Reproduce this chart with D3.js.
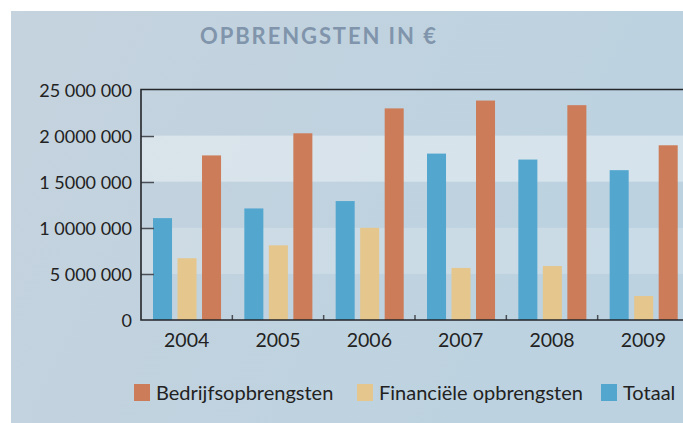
<!DOCTYPE html>
<html>
<head>
<meta charset="utf-8">
<script src="https://cdn.jsdelivr.net/npm/d3@7"></script>
<style>
  body { margin: 0; background: #fff; }
  svg { display: block; }
  text { font-family: Lato, "Open Sans", sans-serif; }
</style>
</head>
<body>
<div id="chart"></div>
<script>
// data
var years = ["2004", "2005", "2006", "2007", "2008", "2009"];
var seriesKeys = ["totaal", "financieel", "bedrijf"];
var totaal     = [11.05, 12.1, 12.9, 18.05, 17.4, 16.25];   // millions
var financieel = [6.7, 8.1, 10.0, 5.65, 5.85, 2.6];
var bedrijf    = [17.85, 20.25, 22.95, 23.8, 23.3, 18.95];
var yTicks = [0, 5, 10, 15, 20, 25];
var yTickLabels = ["0", "5 000 000", "1 0000 000", "1 5000 000", "2 0000 000", "25 000 000"];
var legendItems = [
    { key: "bedrijf", label: "Bedrijfsopbrengsten" }
  , { key: "financieel", label: "Financiële opbrengsten" }
  , { key: "totaal", label: "Totaal" }
];

var colors = { totaal: "#53a7cf", financieel: "#e5c68c", bedrijf: "#cc7c58" };

var width = 683, height = 423
  , plot = { left: 141, top: 89.5, bottom: 320, right: 689 }
;

var svg = d3.select("#chart").append("svg")
    .attr("width", width)
    .attr("height", height)
;

var defs = svg.append("defs");
var grad = defs.append("linearGradient")
    .attr("id", "bg")
    .attr("x1", "0").attr("y1", "0")
    .attr("x2", "1").attr("y2", "0.3")
;
grad.append("stop").attr("offset", "0").attr("stop-color", "#c5d3de");
grad.append("stop").attr("offset", "1").attr("stop-color", "#bcd2e0");

svg.append("rect")
    .attr("x", 11).attr("y", 11)
    .attr("width", width - 11).attr("height", height - 11)
    .attr("fill", "url(#bg)")
;

// scales
var y = d3.scaleLinear().domain([0, 25]).range([plot.bottom, plot.top]);
var x0 = d3.scaleBand().domain(years).range([plot.left, plot.right]).padding(0);
var x1 = d3.scaleBand()
    .domain(seriesKeys)
    .range([12, x0.bandwidth() - 11.3])
    .paddingInner(0.224)
    .paddingOuter(0)
;

// alternating bands
var bands = [
    { from: 5, to: 10, op: 0.2 }
  , { from: 15, to: 20, op: 0.38 }
];
svg.append("g").attr("class", "bands")
  .selectAll("rect")
    .data(bands)
  .enter().append("rect")
    .attr("x", plot.left)
    .attr("width", width - plot.left)
    .attr("y", function(d) { return y(d.to); })
    .attr("height", function(d) { return y(d.from) - y(d.to); })
    .attr("fill", "#fff")
    .attr("fill-opacity", function(d) { return d.op; })
;

// bars
var rows = years.map(function(yr, i) {
    return { year: yr, totaal: totaal[i], financieel: financieel[i], bedrijf: bedrijf[i] };
});
svg.append("g").attr("class", "bars")
  .selectAll("g")
    .data(rows)
  .enter().append("g")
    .attr("transform", function(d) { return "translate(" + x0(d.year) + ",0)"; })
  .selectAll("rect")
    .data(function(d) { return seriesKeys.map(function(k) { return { key: k, value: d[k] }; }); })
  .enter().append("rect")
    .attr("x", function(d) { return x1(d.key); })
    .attr("width", x1.bandwidth())
    .attr("y", function(d) { return y(d.value); })
    .attr("height", function(d) { return y(0) - y(d.value); })
    .attr("fill", function(d) { return colors[d.key]; })
;

// y ticks (inside) and labels
var yAxis = svg.append("g").attr("class", "y-axis");
yAxis.selectAll("line")
    .data(yTicks.slice(1, 5))
  .enter().append("line")
    .attr("x1", plot.left).attr("x2", plot.left + 13)
    .attr("y1", function(d) { return Math.round(y(d)) + 0.5; })
    .attr("y2", function(d) { return Math.round(y(d)) + 0.5; })
    .attr("stroke", "#4a4f55")
    .attr("stroke-width", 1.5)
;
yAxis.selectAll("text")
    .data(yTicks)
  .enter().append("text")
    .attr("x", 132)
    .attr("y", function(d) { return y(d) + 7; })
    .attr("text-anchor", "end")
    .attr("font-size", 18)
    .attr("fill", "#222")
    .text(function(d, i) { return yTickLabels[i]; })
;

// x ticks at band boundaries
var xAxis = svg.append("g").attr("class", "x-axis");
xAxis.selectAll("line")
    .data(years.slice(1))
  .enter().append("line")
    .attr("x1", function(d) { return x0(d); })
    .attr("x2", function(d) { return x0(d); })
    .attr("y1", plot.bottom).attr("y2", plot.bottom - 5)
    .attr("stroke", "#4a4f55")
    .attr("stroke-width", 1.5)
;
xAxis.selectAll("text")
    .data(years)
  .enter().append("text")
    .attr("x", function(d) { return x0(d) + x0.bandwidth() / 2; })
    .attr("y", 347)
    .attr("text-anchor", "middle")
    .attr("font-size", 19.5)
    .attr("fill", "#222")
    .text(function(d) { return d; })
;

// frame
svg.append("path")
    .attr("d", "M" + width + "," + plot.top + "H" + plot.left + "V" + plot.bottom + "H" + width)
    .attr("fill", "none")
    .attr("stroke", "#23262a")
    .attr("stroke-width", 1.6)
;

// title
svg.append("text")
    .attr("x", 200)
    .attr("y", 44)
    .attr("font-size", 22)
    .attr("font-weight", "bold")
    .attr("letter-spacing", 1.9)
    .attr("fill", "#8095ab")
    .text("OPBRENGSTEN IN €")
;

// legend
var legendX = [134, 357, 601];
var legend = svg.append("g").attr("class", "legend")
  .selectAll("g")
    .data(legendItems)
  .enter().append("g")
    .attr("transform", function(d, i) { return "translate(" + legendX[i] + ",384)"; })
;
legend.append("rect")
    .attr("width", 16).attr("height", 17)
    .attr("fill", function(d) { return colors[d.key]; })
;
legend.append("text")
    .attr("x", 22)
    .attr("y", 16)
    .attr("font-size", 20)
    .attr("fill", "#222")
    .text(function(d) { return d.label; })
;
</script>
</body>
</html>
